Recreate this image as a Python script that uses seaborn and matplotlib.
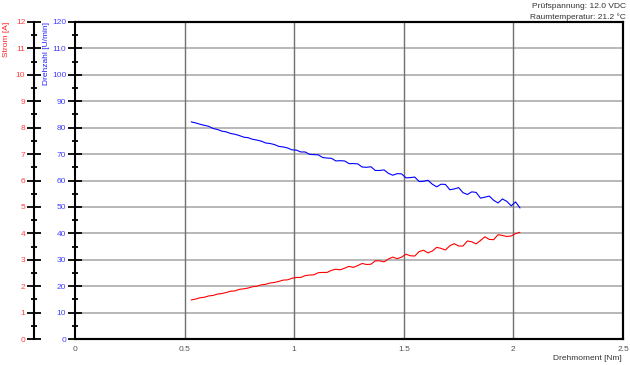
import matplotlib
matplotlib.use("Agg")
import matplotlib.pyplot as plt
import seaborn as sns
import pandas as pd
from matplotlib.ticker import MultipleLocator

torque = [0.53, 0.55, 0.57, 0.59, 0.61, 0.63, 0.65, 0.67, 0.69, 0.71,
          0.73, 0.75, 0.77, 0.79, 0.81, 0.83, 0.85, 0.87, 0.89, 0.91,
          0.93, 0.95, 0.97, 0.99, 1.01, 1.03, 1.05, 1.07, 1.09, 1.11,
          1.13, 1.15, 1.17, 1.19, 1.21, 1.23, 1.25, 1.27, 1.29, 1.31,
          1.33, 1.35, 1.37, 1.39, 1.41, 1.43, 1.45, 1.47, 1.49, 1.51,
          1.53, 1.55, 1.57, 1.59, 1.61, 1.63, 1.65, 1.67, 1.69, 1.71,
          1.73, 1.75, 1.77, 1.79, 1.81, 1.83, 1.85, 1.87, 1.89, 1.91,
          1.93, 1.95, 1.97, 1.99, 2.01, 2.03]

speed = [82.2, 81.8, 81.3, 80.9, 80.5, 79.7, 79.3, 78.7, 78.4, 77.8,
         77.5, 77.0, 76.4, 76.2, 75.6, 75.3, 74.9, 74.2, 74.0, 73.6,
         72.9, 72.7, 72.3, 71.6, 71.5, 70.8, 70.8, 69.9, 69.8, 69.7,
         68.7, 68.5, 68.4, 67.4, 67.5, 67.4, 66.4, 66.4, 66.3, 65.1,
         65.0, 65.2, 63.8, 63.8, 64.0, 62.7, 62.0, 62.6, 62.5, 61.0,
         61.1, 61.3, 59.6, 59.7, 60.1, 58.6, 57.6, 58.6, 58.5, 56.5,
         56.8, 57.3, 55.4, 54.7, 55.7, 55.5, 53.3, 53.7, 54.1, 52.5,
         51.5, 53.0, 52.1, 50.4, 51.9, 49.6]

current = [1.48, 1.51, 1.56, 1.58, 1.63, 1.65, 1.70, 1.72, 1.76, 1.81,
           1.82, 1.88, 1.90, 1.93, 1.98, 2.00, 2.05, 2.07, 2.12, 2.14,
           2.18, 2.23, 2.24, 2.30, 2.33, 2.33, 2.40, 2.42, 2.43, 2.51,
           2.52, 2.52, 2.60, 2.64, 2.62, 2.68, 2.75, 2.71, 2.78, 2.86,
           2.82, 2.83, 2.96, 2.96, 2.92, 3.03, 3.10, 3.04, 3.10, 3.21,
           3.15, 3.14, 3.31, 3.36, 3.26, 3.33, 3.47, 3.43, 3.37, 3.53,
           3.61, 3.52, 3.52, 3.71, 3.68, 3.60, 3.73, 3.87, 3.77, 3.76,
           3.95, 3.92, 3.88, 3.90, 3.99, 4.04]

x_ticks = [0, 0.5, 1, 1.5, 2, 2.5]
x_tick_labels = ["0", "0.5", "1", "1.5", "2", "2.5"]
speed_ticks = list(range(0, 121, 10))
current_ticks = list(range(0, 13, 1))

df = pd.DataFrame({"Drehmoment": torque, "Drehzahl": speed, "Strom": current})

sns.set_style("white")
plt.rcParams["font.family"] = ["Liberation Sans", "DejaVu Sans"]

fig = plt.figure(figsize=(6.3, 3.65), dpi=100)
L, R, B, T = 75 / 630, 623 / 630, 1 - 339 / 365, 1 - 22 / 365
ax = fig.add_axes([L, B, R - L, T - B])

# grid lines
for v in speed_ticks[1:-1]:
    ax.axhline(v, color="#ababab", lw=1.2, zorder=0)
for v in x_ticks[1:-1]:
    ax.axvline(v, color="#707070", lw=1.0, zorder=0)

sns.lineplot(data=df, x="Drehmoment", y="Drehzahl", ax=ax, color="#0000ff",
             lw=0.8, estimator=None, sort=False)

ax.set_xlim(0, 2.5)
ax.set_ylim(0, 120)
ax.set_xticks(x_ticks)
ax.set_xticklabels(x_tick_labels)
ax.set_yticks(speed_ticks)
ax.xaxis.set_minor_locator(MultipleLocator(0.1))
ax.yaxis.set_minor_locator(MultipleLocator(5))
ax.set_xlabel("")
ax.set_ylabel("")
for s in ax.spines.values():
    s.set_color("black")
    s.set_linewidth(1.5)
ax.tick_params(axis="both", which="both", direction="inout", color="black",
               width=1.3)
ax.tick_params(axis="y", which="major", length=9.5, labelsize=6,
               labelcolor="#4040ff", pad=1.5)
ax.tick_params(axis="y", which="minor", length=5)
ax.tick_params(axis="x", which="major", length=6, labelsize=6,
               labelcolor="#555555", pad=2)
ax.tick_params(axis="x", which="minor", length=6)

ax2 = ax.twinx()
sns.lineplot(data=df, x="Drehmoment", y="Strom", ax=ax2, color="#ff0000",
             lw=0.8, estimator=None, sort=False)
ax2.set_ylim(0, 12)
ax2.set_yticks(current_ticks)
ax2.yaxis.set_minor_locator(MultipleLocator(0.5))
ax2.yaxis.set_ticks_position("left")
ax2.yaxis.set_label_position("left")
ax2.spines["left"].set_position(("axes", -(75 - 34) / 548))
ax2.spines["left"].set_visible(True)
for s in ax2.spines.values():
    s.set_color("black")
    s.set_linewidth(1.5)
ax2.set_ylabel("")
ax2.tick_params(axis="y", which="both", direction="inout", color="black",
                width=1.3)
ax2.tick_params(axis="y", which="major", length=9.5, labelsize=6,
                labelcolor="#ff4040", pad=1.5)
ax2.tick_params(axis="y", which="minor", length=5)

fig.text(7 / 630, 1 - 22 / 365, "Strom [A]", rotation=90, color="#ff2020",
         fontsize=6, ha="center", va="top")
fig.text(47 / 630, 1 - 22 / 365, "Drehzahl [U/min]", rotation=90,
         color="#2020ff", fontsize=6, ha="center", va="top")
fig.text(622 / 630, 1 - 358 / 365, "Drehmoment [Nm]", color="#333333",
         fontsize=6, ha="right", va="center")
fig.text(626 / 630, 1 - 6 / 365, "Prüfspannung: 12.0 VDC", color="#333333",
         fontsize=6, ha="right", va="center")
fig.text(626 / 630, 1 - 17 / 365, "Raumtemperatur: 21.2 °C", color="#333333",
         fontsize=6, ha="right", va="center")

fig.savefig("out.png", dpi=100)
